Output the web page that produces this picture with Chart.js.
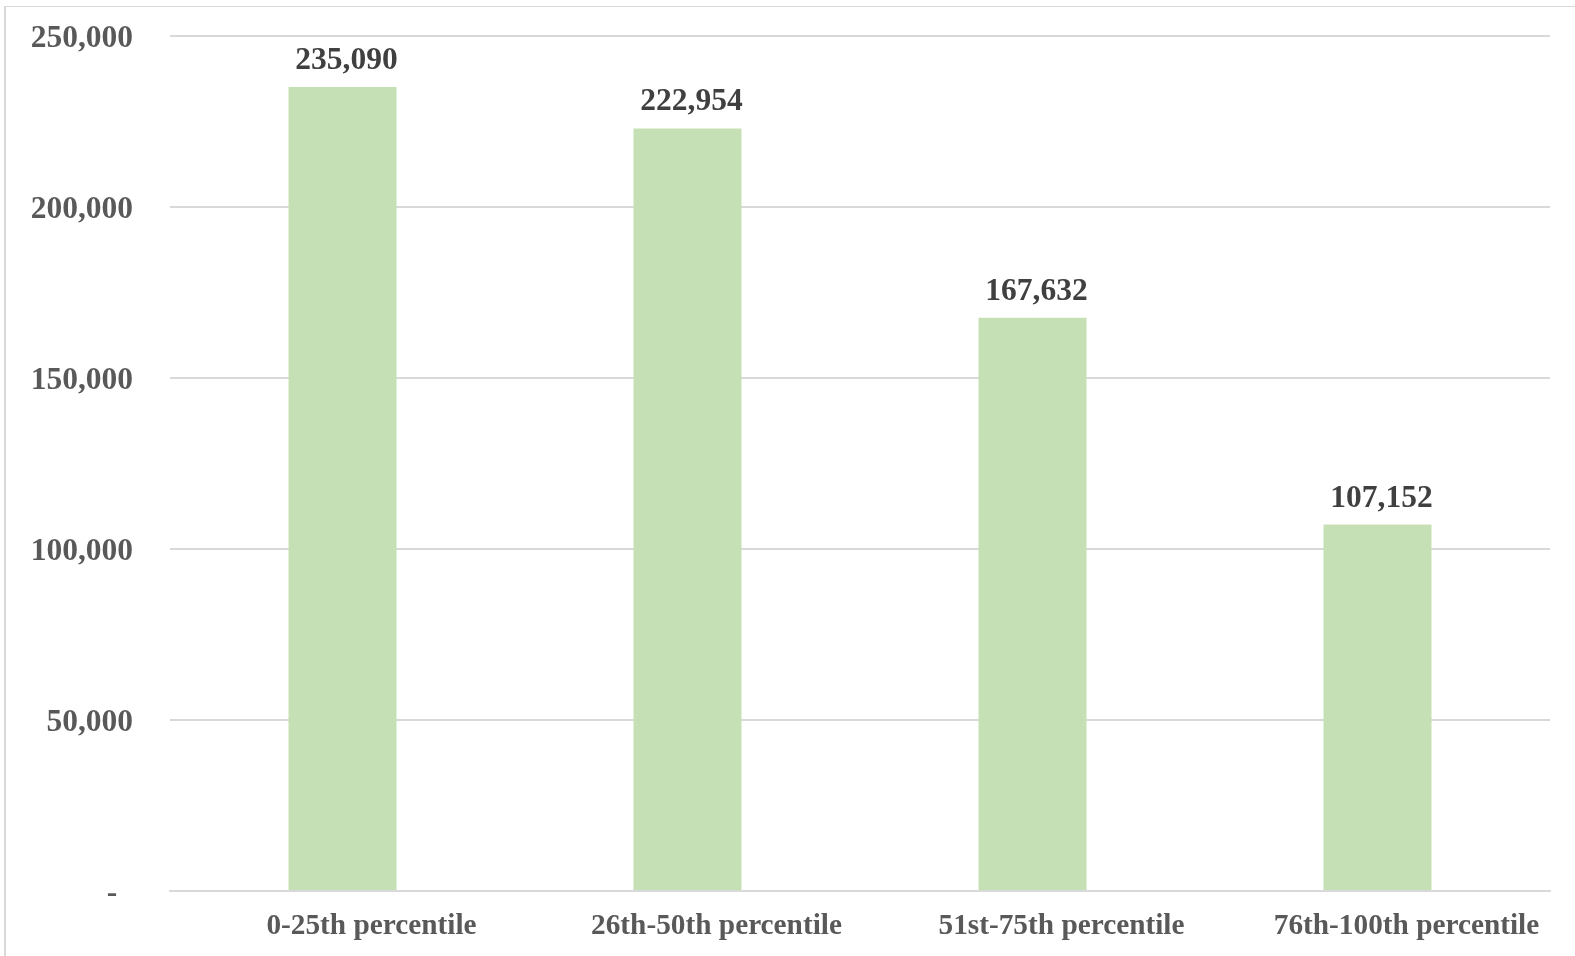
<!DOCTYPE html>
<html>
<head>
<meta charset="utf-8">
<script src="https://cdn.jsdelivr.net/npm/chart.js@4"></script>
<style>
    html, body { margin: 0; padding: 0; background: #fff; }
    #wrap { position: relative; width: 1575px; height: 956px; overflow: hidden; }
    #frame { position: absolute; left: 4px; top: 6px; right: -10px; bottom: -10px;
             border-top: 1px solid #d9d9d9; border-left: 2px solid #d9d9d9; }
    canvas { position: absolute; left: 0; top: 0; }
</style>
</head>
<body>
<div id="wrap">
    <div id="frame"></div>
    <canvas id="barChart" width="1575" height="956"></canvas>
</div>
<script>
// ============================================
// DATOS
// ============================================

const categories = ['0-25th percentile', '26th-50th percentile', '51st-75th percentile', '76th-100th percentile'];
const values = [235090, 222954, 167632, 107152];
const yTicks = [0, 50000, 100000, 150000, 200000, 250000];

const barColor = '#c5e0b4';
const axisText = '#595959';
const labelText = '#404040';
const gridColor = '#d9d9d9';
const serif = "'Liberation Serif', 'Times New Roman', serif";

const fmt = v => v.toLocaleString('en-US');

// etiquetas encima de cada barra
const valueLabels = {
    id: 'valueLabels',
    afterDatasetsDraw(chart) {
        const ctx = chart.ctx;
        const meta = chart.getDatasetMeta(0);
        ctx.save();
        ctx.font = `bold 31.5px ${serif}`;
        ctx.fillStyle = labelText;
        ctx.textAlign = 'center';
        ctx.textBaseline = 'alphabetic';
        meta.data.forEach((bar, i) => {
            ctx.fillText(fmt(values[i]), bar.x + 4, bar.y - 18);
        });
        ctx.restore();
    }
};

// ============================================
// GRÁFICO
// ============================================

const ctx = document.getElementById('barChart').getContext('2d');
new Chart(ctx, {
    type: 'bar',
    data: {
        labels: categories,
        datasets: [{
            data: values,
            backgroundColor: barColor,
            borderWidth: 0,
            barPercentage: 0.313,
            categoryPercentage: 1
        }]
    },
    options: {
        responsive: false,
        animation: false,
        layout: { padding: { top: 36, right: 25, left: 0, bottom: 0 } },
        plugins: {
            legend: { display: false },
            tooltip: { enabled: false }
        },
        scales: {
            y: {
                min: 0,
                max: 250000,
                afterBuildTicks: axis => { axis.ticks = yTicks.map(v => ({ value: v })); },
                afterFit: axis => {
                    axis.width = 170;
                    // el padding de los ticks no debe empujar el área del gráfico
                    axis.paddingTop = 0;
                    axis.paddingBottom = 0;
                },
                border: { display: false },
                grid: { color: gridColor, lineWidth: 2, drawTicks: false },
                ticks: {
                    color: axisText,
                    padding: 37,
                    labelOffset: 2.5,
                    font: { family: serif, size: 31.5, weight: 'bold' },
                    callback: v => v === 0 ? '-  ' : fmt(v)
                }
            },
            x: {
                afterFit: axis => { axis.height = 65; },
                border: { display: true, color: gridColor, width: 2 },
                grid: { display: false, drawTicks: false },
                ticks: {
                    color: axisText,
                    padding: 18,
                    labelOffset: 29,
                    maxRotation: 0,
                    font: { family: serif, size: 29.3, weight: 'bold' }
                }
            }
        }
    },
    plugins: [valueLabels]
});
</script>
</body>
</html>
